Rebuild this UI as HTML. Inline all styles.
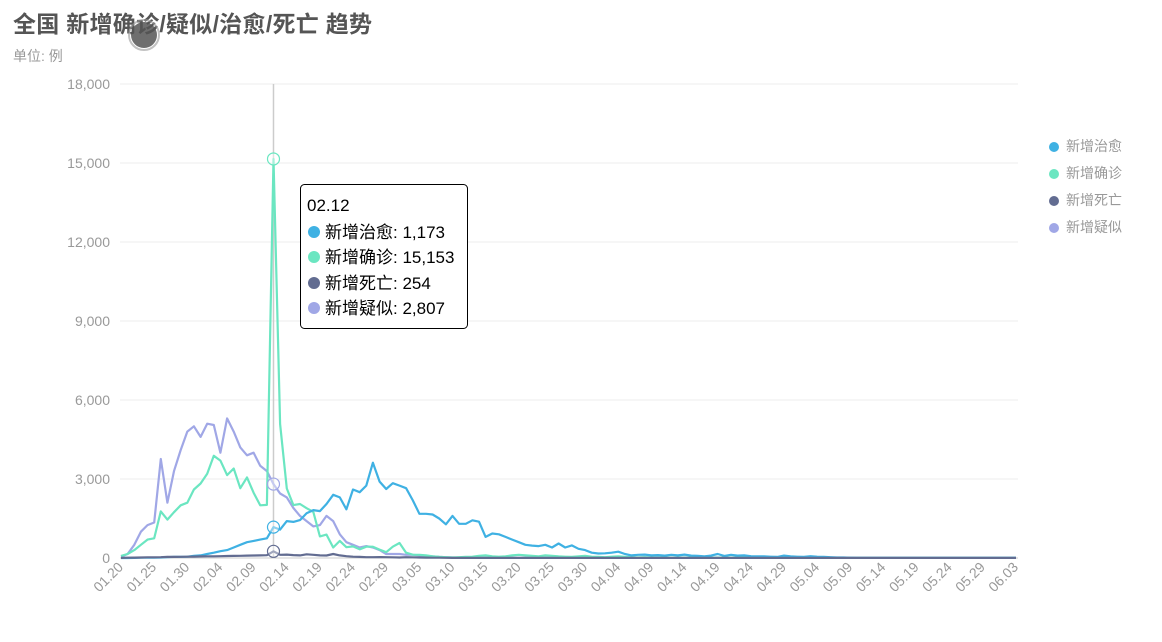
<!DOCTYPE html>
<html><head><meta charset="utf-8"><style>
body{margin:0;background:#fff;font-family:"Liberation Sans","Noto Sans CJK SC",sans-serif;}
svg text{font-family:"Liberation Sans","Noto Sans CJK SC",sans-serif;}
</style></head><body>
<svg id="s" width="1162" height="637" xmlns="http://www.w3.org/2000/svg">
<text x="13" y="32" font-size="23" font-weight="bold" fill="#555" textLength="359">全国 新增确诊/疑似/治愈/死亡 趋势</text>
<text x="13" y="61" font-size="14" fill="#999">单位: 例</text>
<circle cx="144" cy="35" r="13" fill="#555" opacity="0.85"/><circle cx="144" cy="35" r="15" fill="none" stroke="#999" stroke-width="2" opacity="0.6"/>
<g id="g"></g>
<g font-size="14" fill="#999">
<circle cx="1054" cy="147" r="5" fill="#3fb1e3"/><text x="1066" y="151">新增治愈</text>
<circle cx="1054" cy="174" r="5" fill="#6be6c1"/><text x="1066" y="178">新增确诊</text>
<circle cx="1054" cy="201" r="5" fill="#626c91"/><text x="1066" y="205">新增死亡</text>
<circle cx="1054" cy="228" r="5" fill="#a0a7e6"/><text x="1066" y="232">新增疑似</text>
</g>
<rect x="300.5" y="184.5" width="167" height="144" rx="4" fill="#fff" stroke="#000"/>
<g font-size="17" fill="#000">
<text x="307" y="211">02.12</text>
<circle cx="314" cy="232" r="6" fill="#3fb1e3"/><text x="325" y="238">新增治愈: 1,173</text>
<circle cx="314" cy="257" r="6" fill="#6be6c1"/><text x="325" y="263">新增确诊: 15,153</text>
<circle cx="314" cy="283" r="6" fill="#626c91"/><text x="325" y="289">新增死亡: 254</text>
<circle cx="314" cy="308" r="6" fill="#a0a7e6"/><text x="325" y="314">新增疑似: 2,807</text>
</g>
</svg>
<script>
var g=document.getElementById('g'),h='';
function X(d){return 121+6.63*d}function Y(v){return 558-v*474/18000}
for(var i=0;i<=6;i++){var y=Y(i*3000);h+='<line x1="120" x2="1018" y1="'+y+'" y2="'+y+'" stroke="'+(i?'#eee':'#ccc')+'"/>';
h+='<text x="110" y="'+(y+5)+'" font-size="14" fill="#999" text-anchor="end">'+(i?(i*3).toString()+',000':'0')+'</text>';}
var labs=['01.20','01.25','01.30','02.04','02.09','02.14','02.19','02.24','02.29','03.05','03.10','03.15','03.20','03.25','03.30','04.04','04.09','04.14','04.19','04.24','04.29','05.04','05.09','05.14','05.19','05.24','05.29','06.03'];
labs.forEach(function(l,k){var x=X(k*5);h+='<text transform="translate('+(x+3)+',568) rotate(-45)" font-size="14" fill="#999" text-anchor="end">'+l+'</text>';});
h+='<line x1="'+X(23)+'" x2="'+X(23)+'" y1="84" y2="558" stroke="#ccc" stroke-width="1.5"/>';
function fill(a,n,tail){while(a.length<n)a.push(tail(a.length));return a;}
var pur=[50,150,500,1000,1250,1350,3760,2100,3300,4100,4800,5000,4600,5100,5050,4000,5300,4800,4200,3900,4000,3500,3300,2807,2450,2300,1900,1600,1400,1200,1250,1600,1400,900,600,500,400,450,400,300,150,150,150,120,120,100,80,60,40,30,20,10];
fill(pur,136,function(){return 5});
var grn=[80,150,300,500,700,750,1770,1460,1740,2000,2100,2600,2830,3200,3880,3700,3150,3400,2650,3060,2480,2000,2015,15153,5090,2640,2010,2050,1890,1750,820,890,400,650,410,440,330,430,430,320,220,430,570,200,125,120,100,60,40,30,20,30,40,50,80,100,60,50,60,100,120,100,80,60,100,80,60,50,40,60,80,50,40,30,50,60,40,30,20,30,20];
fill(grn,136,function(i){return i<110?15:5});
var blu=[0,0,5,10,10,15,20,30,40,45,50,80,100,150,200,260,300,400,500,600,650,700,750,1173,1080,1400,1370,1440,1700,1820,1780,2050,2400,2300,1850,2600,2500,2750,3620,2900,2620,2840,2750,2650,2200,1680,1680,1650,1500,1280,1600,1300,1300,1430,1380,800,930,900,800,700,600,500,470,450,500,400,550,400,480,350,300,200,170,180,200,240,150,100,120,130,100,110,90,120,100,130,90,80,60,90,150,80,120,90,100,70,60,60,50,40,90,60,50,40,70,50,40,30,20,20,10];
fill(blu,136,function(){return 5});
var ded=[5,10,15,20,25,25,30,40,40,45,50,55,60,65,65,70,75,80,85,90,95,100,105,254,120,130,110,100,140,120,100,95,150,100,70,50,40,30,30,35,30,25,20,30,25,20,15,10,10,8,5,5];
fill(ded,136,function(){return 2});
function line(a,c){var p=a.map(function(v,i){return X(i).toFixed(1)+','+Y(v).toFixed(1)}).join(' ');return '<polyline points="'+p+'" fill="none" stroke="'+c+'" stroke-width="2.2" stroke-linejoin="round"/>';}
h+=line(pur,'#a0a7e6')+line(grn,'#6be6c1')+line(blu,'#3fb1e3')+line(ded,'#626c91');
[[15153,'#6be6c1'],[2807,'#a0a7e6'],[1173,'#3fb1e3'],[254,'#626c91']].forEach(function(p){h+='<circle cx="'+X(23)+'" cy="'+Y(p[0])+'" r="6" fill="#fff" fill-opacity="0.4" stroke="'+p[1]+'" stroke-width="1.2"/>';});
g.innerHTML=h;
</script>
</body></html>
